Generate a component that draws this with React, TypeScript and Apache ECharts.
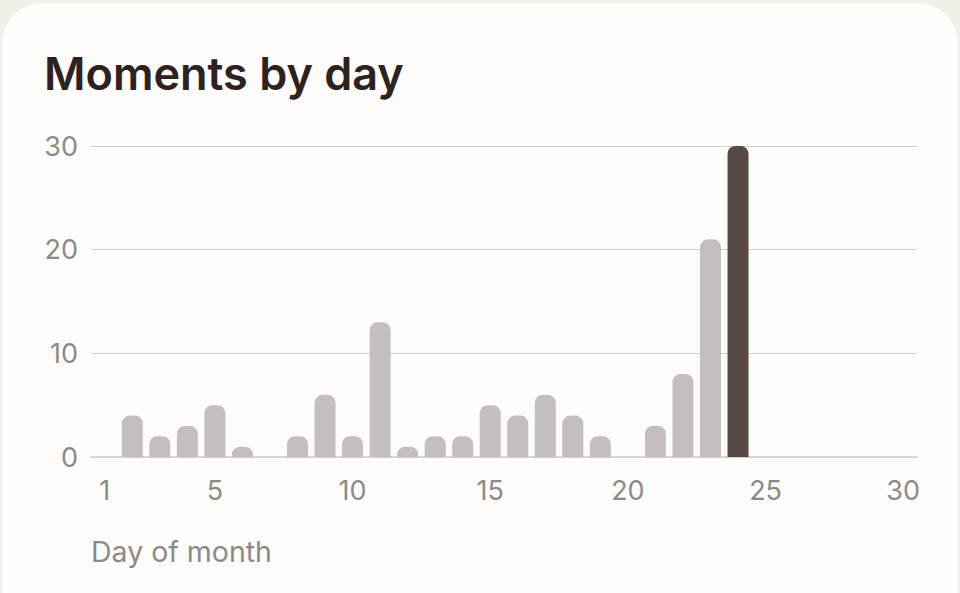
import React, { useEffect, useRef } from 'react'
import * as echarts from 'echarts'

// 每日 moments 数量
const days = Array.from({ length: 30 }, (_, i) => String(i + 1))
const counts = [0, 4, 2, 3, 5, 1, 0, 2, 6, 2, 13, 1, 2, 2, 5, 4, 6, 4, 2, 0, 3, 8, 21, 30, 0, 0, 0, 0, 0, 0]
const labelDays = ['1', '5', '10', '15', '20', '25', '30']
const highlightDay = '24'

const FONT = 'Inter, Roboto, "Noto Sans", sans-serif'
const GREY = '#8c8a89'
const LINE = '#d2cecc'

const App: React.FC = () => {
  const ref = useRef<HTMLDivElement>(null)

  useEffect(() => {
    if (!ref.current) return
    const chart = echarts.init(ref.current, undefined, { renderer: 'svg' })
    chart.setOption({
      animation: false,
      backgroundColor: 'transparent',
      title: {
        text: 'Moments by day',
        left: 39,
        top: 46,
        textStyle: { fontFamily: FONT, fontSize: 45, fontWeight: 600, color: '#2e2220' },
      },
      grid: { left: 91, right: 43, top: 146, bottom: 136, containLabel: false },
      xAxis: {
        type: 'category',
        data: days,
        axisLine: { show: true, lineStyle: { color: LINE, width: 1.5 } },
        axisTick: { show: false },
        axisLabel: {
          interval: (_: number, v: string) => labelDays.includes(v),
          margin: 20,
          color: GREY,
          fontSize: 27,
          fontFamily: FONT,
        },
      },
      yAxis: {
        type: 'value',
        min: 0,
        max: 30,
        interval: 10,
        axisLine: { show: false },
        axisTick: { show: false },
        axisLabel: { margin: 13, color: GREY, fontSize: 27, fontFamily: FONT },
        splitLine: { lineStyle: { color: LINE, width: 1.2 } },
      },
      graphic: [{
        type: 'text',
        left: 91,
        top: 537,
        style: { text: 'Day of month', fill: GREY, fontSize: 28.5, fontFamily: FONT },
      }],
      series: [{
        type: 'bar',
        data: counts.map((v, i) => ({
          value: v,
          itemStyle: {
            color: days[i] === highlightDay ? '#574845' : '#c4bebc',
            borderRadius: [8, 8, 0, 0],
          },
        })),
        barWidth: 21,
      }],
    })
    return () => chart.dispose()
  }, [])

  return (
    <div style={{ position: 'fixed', inset: 0, background: '#f2efe9', overflow: 'hidden' }}>
      <div style={{
        position: 'absolute', left: 2, top: 3, width: 956, height: 640,
        background: '#fdfcfa', borderRadius: 40,
      }} />
      <div ref={ref} style={{ position: 'absolute', left: 0, top: 0, width: 960, height: 593 }} />
    </div>
  )
}

export default App
